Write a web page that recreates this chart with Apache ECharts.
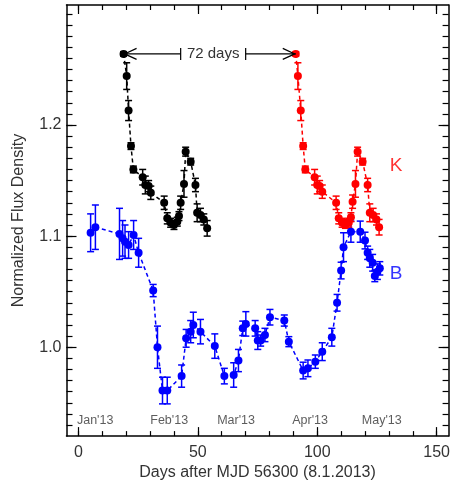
<!DOCTYPE html>
<html>
<head>
<meta charset="utf-8">
<script src="https://cdn.jsdelivr.net/npm/echarts@6/dist/echarts.min.js"></script>
<style>
  html, body { margin: 0; padding: 0; background: #fff; }
  #main { width: 453px; height: 486px; }
</style>
</head>
<body>
<div id="main"></div>
<script>
// K band (red)
var kDays = [91.0, 91.9, 93.1, 94.1, 95.0, 98.9, 100.0, 101.0, 102.1, 107.9, 109.0, 110.4,
             111.8, 113.2, 114.1, 114.8, 116.0, 116.9, 119.0, 121.1, 122.0, 123.4, 124.8, 125.9];
var kFlux = [1.264, 1.244, 1.213, 1.181, 1.160, 1.153, 1.146, 1.145, 1.140, 1.130, 1.116, 1.112,
             1.111, 1.112, 1.117, 1.131, 1.147, 1.176, 1.167, 1.146, 1.121, 1.119, 1.115, 1.108];
var kErr  = [0.002, 0.012, 0.009, 0.003, 0.003, 0.007, 0.008, 0.005, 0.006, 0.006, 0.005, 0.004,
             0.004, 0.004, 0.004, 0.006, 0.012, 0.004, 0.003, 0.006, 0.008, 0.006, 0.005, 0.007];

// K band moved back by the lag (black)
var kLagDays = [18.9, 20.2, 21.0, 22.0, 23.0, 26.9, 28.0, 29.4, 30.3, 35.9, 37.2, 38.6,
                40.0, 41.4, 42.1, 42.8, 44.2, 44.9, 47.0, 49.0, 49.7, 51.1, 52.5, 53.9];
var kLagFlux = [1.264, 1.244, 1.213, 1.181, 1.160, 1.153, 1.146, 1.145, 1.139, 1.130, 1.116, 1.112,
                1.110, 1.113, 1.118, 1.130, 1.147, 1.176, 1.167, 1.146, 1.121, 1.119, 1.115, 1.107];
var kLagErr  = [0.002, 0.012, 0.009, 0.003, 0.003, 0.007, 0.008, 0.005, 0.006, 0.006, 0.005, 0.004,
                0.004, 0.004, 0.004, 0.006, 0.012, 0.004, 0.003, 0.006, 0.008, 0.006, 0.005, 0.007];

// B band (blue)
var bDays = [5.1, 7.1, 17.2, 18.5, 19.5, 21.0, 23.1, 25.2, 31.3, 33.1, 35.2, 37.2,
             43.2, 45.1, 47.0, 48.1, 51.1, 57.1, 61.1, 65.0, 67.0, 68.8, 70.1, 74.0,
             75.1, 76.3, 78.1, 80.2, 86.2, 88.1, 94.1, 96.1, 99.2, 102.1, 106.1, 108.3,
             110.0, 111.0, 114.1, 118.0, 120.0, 121.1, 122.0, 123.2, 124.1, 125.2, 126.2];
var bFlux = [1.103, 1.108, 1.102, 1.098, 1.095, 1.092, 1.101, 1.085, 1.051, 1.000, 0.961, 0.961,
             0.974, 1.008, 1.014, 1.020, 1.014, 1.001, 0.974, 0.975, 0.988, 1.017, 1.021, 1.017,
             1.006, 1.006, 1.011, 1.027, 1.024, 1.005, 0.979, 0.981, 0.987, 0.996, 1.009, 1.040,
             1.069, 1.090, 1.104, 1.104, 1.096, 1.085, 1.080, 1.076, 1.064, 1.068, 1.071];
var bErr  = [0.017, 0.020, 0.023, 0.016, 0.015, 0.012, 0.013, 0.013, 0.0055, 0.019, 0.012, 0.012,
             0.010, 0.008, 0.010, 0.0115, 0.011, 0.011, 0.007, 0.011, 0.010, 0.0065, 0.011, 0.007,
             0.008, 0.005, 0.006, 0.007, 0.005, 0.0045, 0.0075, 0.0075, 0.006, 0.008, 0.008, 0.0075,
             0.0075, 0.013, 0.0095, 0.0095, 0.0075, 0.006, 0.008, 0.0075, 0.005, 0.007, 0.006];

// month names along the bottom
var monthNames = ["Jan'13", "Feb'13", "Mar'13", "Apr'13", "May'13"];
var monthDays = [7, 38, 66, 97, 127];
var monthFlux = 0.934;

// band names
var bandNames = ['K', 'B'];
var bandDays = [133, 133];
var bandFlux = [1.163, 1.066];
var bandColors = ['#ff0000', '#0000ff'];

// 72 day lag arrow
var lagStart = 18.9, lagEnd = 91.0, lagFlux = 1.264, lagText = '72 days';

// ticks
var xTickLabels = [0, 50, 100, 150];
var yTickLabels = [1.0, 1.1, 1.2];
var xMinor = [];
for (var i = 0; i <= 150; i += 10) xMinor.push(i);
var yMinor = [];
for (var j = 93; j <= 130; j++) yMinor.push(j / 100);

var FONT = 'Liberation Sans';
var TXT = '#333';

function zip(a, b, c) {
    return a.map(function (v, i) { return c ? [v, b[i], c[i]] : [v, b[i]]; });
}

function errorBars(params, api) {
    var x = api.value(0), y = api.value(1), e = api.value(2);
    var hi = api.coord([x, y + e]);
    var lo = api.coord([x, y - e]);
    var hw = 3.5;
    var st = { stroke: api.visual('color'), lineWidth: 1.5 };
    return {
        type: 'group',
        children: [
            { type: 'line', shape: { x1: hi[0], y1: hi[1], x2: lo[0], y2: lo[1] }, style: st },
            { type: 'line', shape: { x1: hi[0] - hw, y1: hi[1], x2: hi[0] + hw, y2: hi[1] }, style: st },
            { type: 'line', shape: { x1: lo[0] - hw, y1: lo[1], x2: lo[0] + hw, y2: lo[1] }, style: st }
        ]
    };
}

function lagArrow(params, api) {
    var p1 = api.coord([api.value(0), api.value(2)]);
    var p2 = api.coord([api.value(1), api.value(2)]);
    var y = p1[1];
    var mid = (p1[0] + p2[0]) / 2 + 3.5;
    var gap = 32.5;
    var st = { stroke: '#000', lineWidth: 1.2, fill: null };
    return {
        type: 'group',
        children: [
            { type: 'line', shape: { x1: p1[0], y1: y, x2: mid - gap, y2: y }, style: st },
            { type: 'line', shape: { x1: mid + gap, y1: y, x2: p2[0], y2: y }, style: st },
            { type: 'line', shape: { x1: mid - gap, y1: y - 6, x2: mid - gap, y2: y + 6 }, style: st },
            { type: 'line', shape: { x1: mid + gap, y1: y - 6, x2: mid + gap, y2: y + 6 }, style: st },
            { type: 'polyline', shape: { points: [[p1[0] + 13, y - 5.5], [p1[0] + 1, y], [p1[0] + 13, y + 5.5]] }, style: st },
            { type: 'polyline', shape: { points: [[p2[0] - 13, y - 5.5], [p2[0] - 1, y], [p2[0] - 13, y + 5.5]] }, style: st },
            { type: 'text', style: { text: lagText, x: mid, y: y, align: 'center', verticalAlign: 'middle',
                fontSize: 15, fontFamily: FONT, fill: TXT } }
        ]
    };
}

function xAxisDef(pos, withLabels, ticks, len) {
    return {
        type: 'value', position: pos, min: -5, max: 155,
        axisLine: { show: withLabels !== null, onZero: false, lineStyle: { color: '#000', width: 1.5 } },
        axisTick: { show: true, inside: true, length: len, customValues: ticks, lineStyle: { color: '#000', width: 1.2 } },
        axisLabel: withLabels ? { show: true, customValues: xTickLabels, margin: 8, fontSize: 16, fontFamily: FONT, color: TXT } : { show: false },
        splitLine: { show: false }
    };
}

function yAxisDef(pos, withLabels, ticks, len) {
    return {
        type: 'value', position: pos, min: 0.92, max: 1.308,
        axisLine: { show: withLabels !== null, onZero: false, lineStyle: { color: '#000', width: 1.5 } },
        axisTick: { show: true, inside: true, length: len, customValues: ticks, lineStyle: { color: '#000', width: 1.2 } },
        axisLabel: withLabels ? { show: true, customValues: yTickLabels, margin: 5, fontSize: 16, fontFamily: FONT, color: TXT,
            formatter: function (v) { return v.toFixed(1); } } : { show: false },
        splitLine: { show: false }
    };
}

var xMain = xAxisDef('bottom', true, xTickLabels, 9);
xMain.name = 'Days after MJD 56300 (8.1.2013)';
xMain.nameLocation = 'middle';
xMain.nameGap = 26;
xMain.nameTextStyle = { fontSize: 16, fontFamily: FONT, color: TXT };

var yMain = yAxisDef('left', true, yTickLabels, 10);
yMain.name = 'Normalized Flux Density';
yMain.nameLocation = 'middle';
yMain.nameGap = 40;
yMain.nameTextStyle = { fontSize: 16, fontFamily: FONT, color: TXT };

function bandSeries(name, color, days, flux, err) {
    return [
        {
            name: name + ' err', type: 'custom', renderItem: errorBars,
            itemStyle: { color: color }, encode: { x: 0, y: 1 },
            data: zip(days, flux, err), z: 3
        },
        {
            name: name, type: 'line', data: zip(days, flux),
            symbol: 'circle', symbolSize: 8, showSymbol: true,
            itemStyle: { color: color },
            lineStyle: { color: color, width: 1.5, type: [4, 3] }, z: 4
        }
    ];
}

var series = [];
series = series.concat(bandSeries('B', '#0000ff', bDays, bFlux, bErr));
series = series.concat(bandSeries('K lag', '#000000', kLagDays, kLagFlux, kLagErr));
series = series.concat(bandSeries('K', '#ff0000', kDays, kFlux, kErr));

series.push({
    name: 'lag', type: 'custom', renderItem: lagArrow,
    encode: { x: [0, 1], y: 2 }, data: [[lagStart, lagEnd, lagFlux]], z: 6
});

series.push({
    name: 'months', type: 'scatter', symbolSize: 0, silent: true,
    data: monthNames.map(function (n, i) { return { name: n, value: [monthDays[i], monthFlux] }; }),
    label: { show: true, position: 'inside', formatter: '{b}', fontSize: 12.5, fontFamily: FONT, color: TXT }
});

series.push({
    name: 'bands', type: 'scatter', symbolSize: 0, silent: true,
    data: bandNames.map(function (n, i) {
        return { name: n, value: [bandDays[i], bandFlux[i]],
                 label: { color: bandColors[i] } };
    }),
    label: { show: true, position: 'inside', formatter: '{b}', fontSize: 19, fontFamily: FONT }
});

var chart = echarts.init(document.getElementById('main'));
var option = {
    animation: false,
    backgroundColor: '#fff',
    grid: { left: 66.5, right: 1.7, top: 5, bottom: 49.3 },
    xAxis: [
        xMain,
        xAxisDef('bottom', null, xMinor, 5),
        xAxisDef('top', false, xTickLabels, 9),
        xAxisDef('top', null, xMinor, 5)
    ],
    yAxis: [
        yMain,
        yAxisDef('left', null, yMinor, 6),
        yAxisDef('right', false, yTickLabels, 10),
        yAxisDef('right', null, yMinor, 6)
    ],
    series: series
};
chart.setOption(option);
</script>
</body>
</html>
